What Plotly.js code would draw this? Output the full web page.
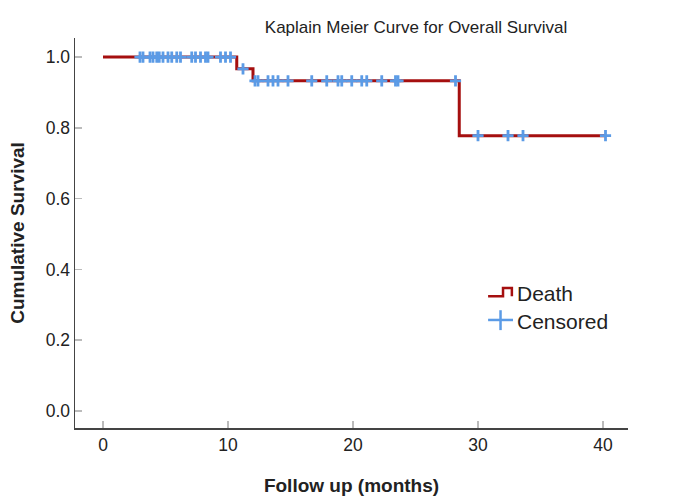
<!DOCTYPE html>
<html><head><meta charset="utf-8">
<script src="https://cdn.plot.ly/plotly-3.0.1.min.js"></script>
<style>body{margin:0;background:#fff}#c{width:692px;height:497px}</style>
</head><body><div id="c"></div>
<script>
// Kaplan-Meier step values (event times and survival after each step)
const stepTimes = [0, 10.7, 12.0, 28.5, 40.2];
const stepSurv  = [1.0, 0.967, 0.933, 0.778, 0.778];
// Censored observation times (months)
const censorTimes = [2.96, 3.2, 3.76, 4.0, 4.3, 4.5, 4.8, 5.2, 5.5, 5.9, 6.2,
  7.1, 7.4, 7.8, 8.2, 8.4, 9.4, 9.8, 10.2,
  11.2,
  12.16, 12.4, 13.2, 13.6, 14.0, 14.8, 16.7, 17.9, 18.8, 19.1, 19.9, 20.7, 21.1, 22.3, 23.4, 23.6, 28.2,
  30.0, 32.4, 33.6, 40.2];
const xTicks = [0, 10, 20, 30, 40];
const yTicks = [0.0, 0.2, 0.4, 0.6, 0.8, 1.0];

function survAt(t){ let s = 1; for (let i=0;i<stepTimes.length;i++){ if (stepTimes[i] <= t) s = stepSurv[i]; } return s; }
const censorSurv = censorTimes.map(survAt);

const F = 'Liberation Sans, Arial, sans-serif';
const red = '#a50f0f', blue = '#5b9be6';
const traces = [
  {x: stepTimes, y: stepSurv, type:'scatter', mode:'lines', line:{shape:'hv', color:red, width:3}, name:'Death', showlegend:false},
  {x: censorTimes, y: censorSurv, type:'scatter', mode:'markers', marker:{symbol:'cross-thin', size:8, line:{color:blue, width:2.8}, color:blue}, name:'Censored', showlegend:false}
];
const axisFont = {family:F, size:17.5, color:'#222'};
const layout = {
  width:692, height:497, paper_bgcolor:'#fff', plot_bgcolor:'#fff',
  margin:{l:75, r:64, t:38, b:69},
  showlegend:false,
  title:{text:'Kaplain Meier Curve for Overall Survival', x:416/692, xanchor:'center', xref:'container', y:1-27/497, yanchor:'middle', yref:'container',
         font:{family:F, size:17, color:'#222'}},
  xaxis:{range:[-2.24, 42], tickvals:xTicks, ticktext:xTicks.map(String), ticks:'inside', ticklen:7, tickcolor:'#bbb', tickwidth:1.5,
         showline:true, linecolor:'#444', linewidth:1.5, showgrid:false, zeroline:false, tickfont:axisFont,
         title:{text:'<b>Follow up (months)</b>', font:{family:F, size:19, color:'#222'}, standoff:25}},
  yaxis:{range:[-0.048, 1.054], tickvals:yTicks, ticktext:yTicks.map(v=>v.toFixed(1)), ticks:'inside', ticklen:7, tickcolor:'#bbb', tickwidth:1.5,
         showline:true, linecolor:'#444', linewidth:1.5, showgrid:false, zeroline:false, tickfont:axisFont,
         title:{text:'<b>Cumulative Survival</b>', font:{family:F, size:19, color:'#222'}, standoff:16}},
  shapes:[
    // legend glyph: step for Death
    {type:'path', xref:'paper', yref:'paper', path:'M 0.747 0.338 L 0.774 0.338 L 0.774 0.359 L 0.79 0.359 L 0.79 0.338', line:{color:red, width:2.5}},
    // legend glyph: cross for Censored
    {type:'line', xref:'paper', yref:'paper', x0:0.747, x1:0.792, y0:0.277, y1:0.277, line:{color:blue, width:2.5}},
    {type:'line', xref:'paper', yref:'paper', x0:0.7695, x1:0.7695, y0:0.251, y1:0.302, line:{color:blue, width:2.5}}
  ],
  annotations:[
    {text:'Death', xref:'paper', yref:'paper', x:0.795, y:0.345, xanchor:'left', yanchor:'middle', showarrow:false, font:{family:F, size:21, color:'#222'}},
    {text:'Censored', xref:'paper', yref:'paper', x:0.795, y:0.274, xanchor:'left', yanchor:'middle', showarrow:false, font:{family:F, size:21, color:'#222'}}
  ]
};
Plotly.newPlot('c', traces, layout, {displayModeBar:false, staticPlot:true});
</script></body></html>
